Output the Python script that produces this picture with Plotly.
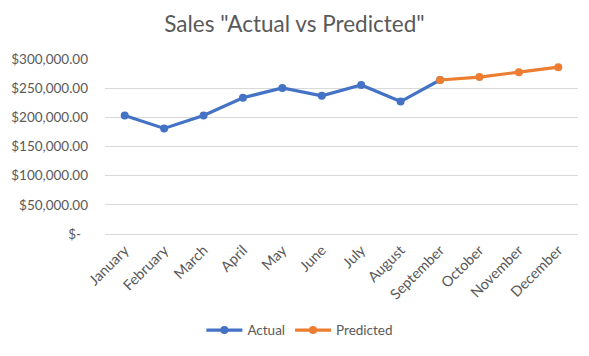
import plotly.graph_objects as go

months = ["January", "February", "March", "April", "May", "June", "July",
          "August", "September", "October", "November", "December"]
actual_months = months[:9]
actual_values = [203000, 181000, 203000, 233500, 250500, 237000, 255500, 227000, 264000]
predicted_months = months[8:]
predicted_values = [264000, 269000, 277500, 286000]

y_tickvals = [0, 50000, 100000, 150000, 200000, 250000, 300000]
y_ticktext = ["$-\u00a0\u00a0", "$50,000.00", "$100,000.00", "$150,000.00",
              "$200,000.00", "$250,000.00", "$300,000.00"]

gray = "#595959"
font_family = "Lato, 'Open Sans', sans-serif"

fig = go.Figure()
fig.add_trace(go.Scatter(
    x=actual_months, y=actual_values, name="Actual", mode="lines+markers",
    line=dict(color="#4472C4", width=3.2), marker=dict(size=8, color="#4472C4")))
fig.add_trace(go.Scatter(
    x=predicted_months, y=predicted_values, name="Predicted", mode="lines+markers",
    line=dict(color="#ED7D31", width=3.2), marker=dict(size=8, color="#ED7D31")))

fig.update_layout(
    width=589, height=356,
    margin=dict(l=105, r=11, t=59, b=118),
    paper_bgcolor="white", plot_bgcolor="white",
    font=dict(family=font_family, color=gray, size=13),
    title=dict(text='Sales "Actual vs Predicted"', x=0.5, xanchor="center",
               y=1 - 24.5 / 356, yanchor="middle", yref="container",
               font=dict(size=22.5, color=gray, family=font_family)),
    showlegend=True,
    legend=dict(orientation="h", x=0.412, xanchor="center", y=-0.55, yanchor="middle",
                font=dict(size=13.5, color=gray), itemwidth=36, tracegroupgap=0),
    xaxis=dict(type="category", categoryorder="array", categoryarray=months,
               tickangle=-45, showgrid=False, showline=False, zeroline=False,
               tickfont=dict(size=14.5, color=gray), range=[-0.5, 11.5],
               ticks="", ticklabelstandoff=4),
    yaxis=dict(range=[0, 300000], tickvals=y_tickvals, ticktext=y_ticktext,
               showgrid=True, gridcolor="#D9D9D9", gridwidth=1, zeroline=True,
               zerolinecolor="#D9D9D9", zerolinewidth=1, showline=False,
               tickfont=dict(size=13.5, color=gray), ticks="", ticklabelstandoff=16),
)

fig.write_html("out.html", config={"displayModeBar": False},
               post_script="document.body.style.margin='0';")
